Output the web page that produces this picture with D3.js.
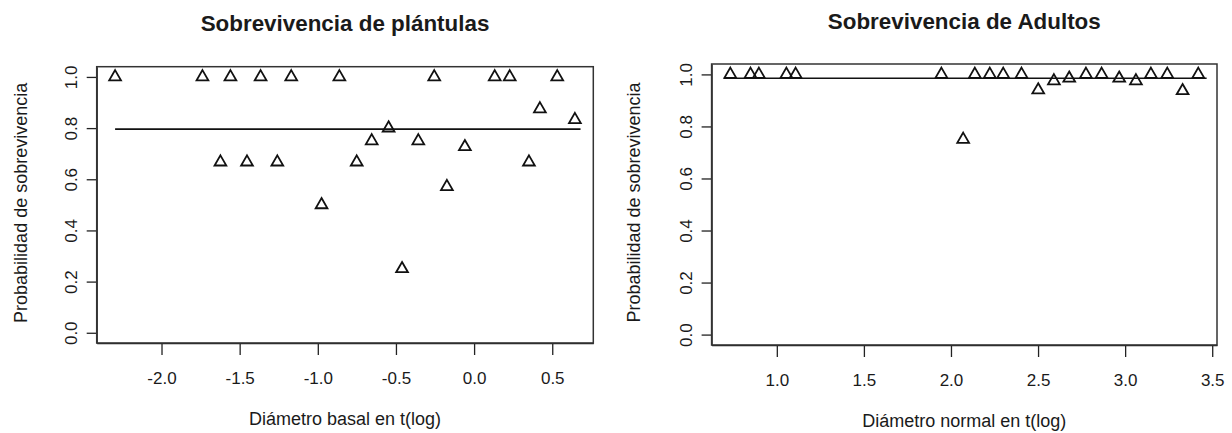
<!DOCTYPE html>
<html>
<head>
<meta charset="utf-8">
<script src="https://cdn.jsdelivr.net/npm/d3@7"></script>
<style>
  body { margin: 0; background: #fff; }
  text { font-family: "Liberation Sans", Arial, sans-serif; fill: #1a1a1a; }
</style>
</head>
<body>
<div id="chart"></div>
<script>
// Seedling survival (left panel)
const seedX = [-2.297, -1.738, -1.559, -1.366, -1.170, -0.862, -0.255, 0.132, 0.228, 0.532,
               -1.623, -1.453, -1.259, -0.751, 0.351,
               -0.976, -0.655, -0.357, -0.547, -0.059, -0.174, -0.461, 0.421, 0.645];
const seedY = [1, 1, 1, 1, 1, 1, 1, 1, 1, 1,
               0.667, 0.667, 0.667, 0.667, 0.667,
               0.5, 0.75, 0.75, 0.8, 0.727, 0.571, 0.25, 0.875, 0.833];
const seedFitX = [-2.297, 0.681];
const seedFitY = [0.796, 0.796];
const seedXTicks = [-2.0, -1.5, -1.0, -0.5, 0.0, 0.5];

// Adult survival (right panel)
const adultX = [0.733, 0.849, 0.897, 1.055, 1.108, 1.945, 2.070, 2.137, 2.223, 2.300, 2.405,
                2.501, 2.591, 2.679, 2.775, 2.865, 2.966, 3.062, 3.148, 3.242, 3.330, 3.420];
const adultY = [1, 1, 1, 1, 1, 1, 0.75, 1, 1, 1, 1,
                0.94, 0.975, 0.985, 1, 1, 0.985, 0.975, 1, 1, 0.937, 1];
const adultFitX = [0.696, 3.468];
const adultFitY = [0.985, 0.985];
const adultXTicks = [1.0, 1.5, 2.0, 2.5, 3.0, 3.5];

const yLimits = [0, 1];
const yTicks = [0.0, 0.2, 0.4, 0.6, 0.8, 1.0];

const svg = d3.select("#chart").append("svg")
    .attr("width", 1232)
    .attr("height", 433);

svg.append("rect").attr("width", 1232).attr("height", 433).attr("fill", "#fff");

// R-style 4% range expansion
function expand(ext) {
    const d = (ext[1] - ext[0]) * 0.04;
    return [ext[0] - d, ext[1] + d];
}

function drawPanel(p) {
    const g = svg.append("g");

    const x = d3.scaleLinear()
        .domain(expand(d3.extent(p.xs)))
        .range([p.left, p.right]);

    const y = d3.scaleLinear()
        .domain(expand(yLimits))
        .range([p.bottom, p.top]);

    const fmt = d => d.toFixed(1);

    // x axis
    const xAxis = g.append("g")
        .attr("transform", "translate(0," + p.bottom + ")")
        .call(d3.axisBottom(x).tickValues(p.xTicks).tickSize(12).tickSizeOuter(0).tickFormat(fmt));
    xAxis.select(".domain").attr("stroke", "#222").attr("stroke-width", 1.3);
    xAxis.selectAll(".tick line").attr("stroke", "#222").attr("stroke-width", 1.3);
    xAxis.selectAll(".tick text")
        .attr("y", 29)
        .attr("dy", "0.71em")
        .style("font-size", "17px")
        .style("font-family", "Liberation Sans, Arial, sans-serif")
        .attr("fill", "#1a1a1a");

    // y axis
    const yAxis = g.append("g")
        .attr("transform", "translate(" + p.left + ",0)")
        .call(d3.axisLeft(y).tickValues(yTicks).tickSize(10).tickSizeOuter(0).tickFormat(fmt));
    yAxis.select(".domain").attr("stroke", "#222").attr("stroke-width", 1.3);
    yAxis.selectAll(".tick line").attr("stroke", "#222").attr("stroke-width", 1.3);
    yAxis.selectAll(".tick text")
        .attr("x", null).attr("dy", null)
        .attr("text-anchor", "middle")
        .attr("transform", "translate(-20,0) rotate(-90)")
        .style("font-size", "17px")
        .style("font-family", "Liberation Sans, Arial, sans-serif")
        .attr("fill", "#1a1a1a");

    // box
    g.append("rect")
        .attr("x", p.left)
        .attr("y", p.top)
        .attr("width", p.right - p.left)
        .attr("height", p.bottom - p.top)
        .attr("fill", "none")
        .attr("stroke", "#333")
        .attr("stroke-width", 1.5);

    // fitted line
    const fit = p.fitX.map((v, i) => [v, p.fitY[i]]);
    g.append("path")
        .datum(fit)
        .attr("d", d3.line().x(d => x(d[0])).y(d => y(d[1])))
        .attr("fill", "none")
        .attr("stroke", "#111")
        .attr("stroke-width", 1.6);

    // points
    const pts = p.xs.map((v, i) => [v, p.ys[i]]);
    g.selectAll(".pt")
        .data(pts)
        .enter().append("path")
        .attr("class", "pt")
        .attr("transform", d => "translate(" + x(d[0]) + "," + y(d[1]) + ")")
        .attr("d", d3.symbol(d3.symbolTriangle, 60))
        .attr("fill", "none")
        .attr("stroke", "#111")
        .attr("stroke-width", 1.8);

    // titles
    const cx = (p.left + p.right) / 2;
    g.append("text")
        .attr("x", cx)
        .attr("y", p.titleY)
        .attr("text-anchor", "middle")
        .style("font-size", "22.4px")
        .style("font-weight", "bold")
        .text(p.title);

    g.append("text")
        .attr("x", cx)
        .attr("y", p.xLabelY)
        .attr("text-anchor", "middle")
        .style("font-size", "18px")
        .text(p.xLabel);

    g.append("text")
        .attr("transform", "translate(" + p.yLabelX + "," + ((p.top + p.bottom) / 2 - 2) + ") rotate(-90)")
        .attr("text-anchor", "middle")
        .style("font-size", "18px")
        .text("Probabilidad de sobrevivencia");
}

drawPanel({
    xs: seedX, ys: seedY, fitX: seedFitX, fitY: seedFitY, xTicks: seedXTicks,
    left: 96.7, right: 593.3, top: 66.7, bottom: 343,
    title: "Sobrevivencia de plántulas", titleY: 31,
    xLabel: "Diámetro basal en t(log)", xLabelY: 425,
    yLabelX: 26.5
});

drawPanel({
    xs: adultX, ys: adultY, fitX: adultFitX, fitY: adultFitY, xTicks: adultXTicks,
    left: 711.6, right: 1217, top: 64, bottom: 345,
    title: "Sobrevivencia de Adultos", titleY: 28.5,
    xLabel: "Diámetro normal en t(log)", xLabelY: 427,
    yLabelX: 640
});
</script>
</body>
</html>
